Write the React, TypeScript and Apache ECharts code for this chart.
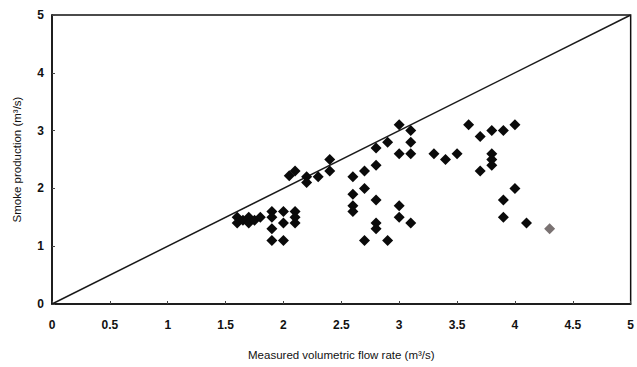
import React, { useEffect, useRef } from "react";
import * as echarts from "echarts";

// Measured volumetric flow rate (m³/s) for each test
const measuredFlow = [
  1.6, 1.6, 1.65, 1.7, 1.7, 1.75, 1.8,
  1.9, 1.9, 1.9, 1.9, 2.0, 2.0, 2.0, 2.1, 2.1, 2.1,
  2.05, 2.1, 2.2, 2.2, 2.3, 2.4, 2.4,
  2.6, 2.7, 2.8, 2.6, 2.7, 2.6, 2.6, 2.8, 2.8, 2.8, 2.7, 2.9,
  2.8, 2.9, 3.0, 3.1, 3.1, 3.0, 3.1, 3.0, 3.0, 3.1,
  3.3, 3.4, 3.5, 3.6, 3.7, 3.8, 3.9, 4.0,
  3.8, 3.8, 3.8, 3.7, 4.0, 3.9, 3.9, 4.1,
];
// Smoke production (m³/s) for each test
const smokeProduction = [
  1.5, 1.4, 1.45, 1.5, 1.4, 1.45, 1.5,
  1.6, 1.5, 1.3, 1.1, 1.1, 1.6, 1.4, 1.6, 1.5, 1.4,
  2.22, 2.3, 2.2, 2.1, 2.2, 2.5, 2.3,
  2.2, 2.3, 2.4, 1.9, 2.0, 1.7, 1.6, 1.8, 1.4, 1.3, 1.1, 1.1,
  2.7, 2.8, 3.1, 3.0, 2.8, 2.6, 2.6, 1.7, 1.5, 1.4,
  2.6, 2.5, 2.6, 3.1, 2.9, 3.0, 3.0, 3.1,
  2.6, 2.5, 2.4, 2.3, 2.0, 1.8, 1.5, 1.4,
];
// Single grey-marked test
const greyFlow = [4.3];
const greySmoke = [1.3];
// Line of equality
const equalityX = [0, 5];
const equalityY = [0, 5];

const axisTicks = [0, 0.5, 1, 1.5, 2, 2.5, 3, 3.5, 4, 4.5, 5];

export default function App() {
  const ref = useRef<HTMLDivElement>(null);
  useEffect(() => {
    if (!ref.current) return;
    const chart = echarts.init(ref.current, null, { renderer: "svg" });
    const font = "'Liberation Sans', Arial, sans-serif";
    chart.setOption({
      animation: false,
      backgroundColor: "#ffffff",
      grid: {
        left: 52,
        right: 4,
        top: 15,
        bottom: 63,
        show: true,
        borderColor: "#111",
        borderWidth: 1.5,
      },
      xAxis: {
        type: "value",
        min: axisTicks[0],
        max: axisTicks[axisTicks.length - 1],
        interval: 0.5,
        name: "Measured volumetric flow rate (m³/s)",
        nameLocation: "middle",
        nameGap: 45,
        nameTextStyle: { fontFamily: font, fontSize: 11.5, color: "#111" },
        axisLine: { show: true, lineStyle: { color: "#111", width: 1.5 } },
        axisTick: { show: true, inside: true, length: 3, lineStyle: { color: "#444" } },
        splitLine: { show: false },
        axisLabel: {
          fontFamily: font,
          fontSize: 12,
          fontWeight: "bold",
          color: "#111",
          margin: 15,
        },
      },
      yAxis: {
        type: "value",
        min: 0,
        max: 5,
        interval: 1,
        name: "Smoke production (m³/s)",
        nameLocation: "middle",
        nameGap: 29,
        nameTextStyle: { fontFamily: font, fontSize: 11.5, color: "#111" },
        axisLine: { show: true, lineStyle: { color: "#111", width: 1.5 } },
        axisTick: { show: true, inside: true, length: 3, lineStyle: { color: "#444" } },
        splitLine: { show: false },
        axisLabel: {
          fontFamily: font,
          fontSize: 12,
          fontWeight: "bold",
          color: "#111",
          margin: 8,
        },
      },
      series: [
        {
          type: "line",
          data: equalityX.map((x, i) => [x, equalityY[i]]),
          symbol: "none",
          lineStyle: { color: "#1a1a1a", width: 1.5 },
          z: 1,
        },
        {
          type: "scatter",
          data: measuredFlow.map((x, i) => [x, smokeProduction[i]]),
          symbol: "diamond",
          symbolSize: 11,
          itemStyle: { color: "#0a0a0a", opacity: 1 },
          z: 2,
        },
        {
          type: "scatter",
          data: greyFlow.map((x, i) => [x, greySmoke[i]]),
          symbol: "diamond",
          symbolSize: 11,
          itemStyle: { color: "#7a7272", opacity: 1 },
          z: 2,
        },
      ],
    });
    return () => chart.dispose();
  }, []);
  return (
    <div
      ref={ref}
      style={{ position: "fixed", left: 0, top: 0, width: 637, height: 367 }}
    />
  );
}
